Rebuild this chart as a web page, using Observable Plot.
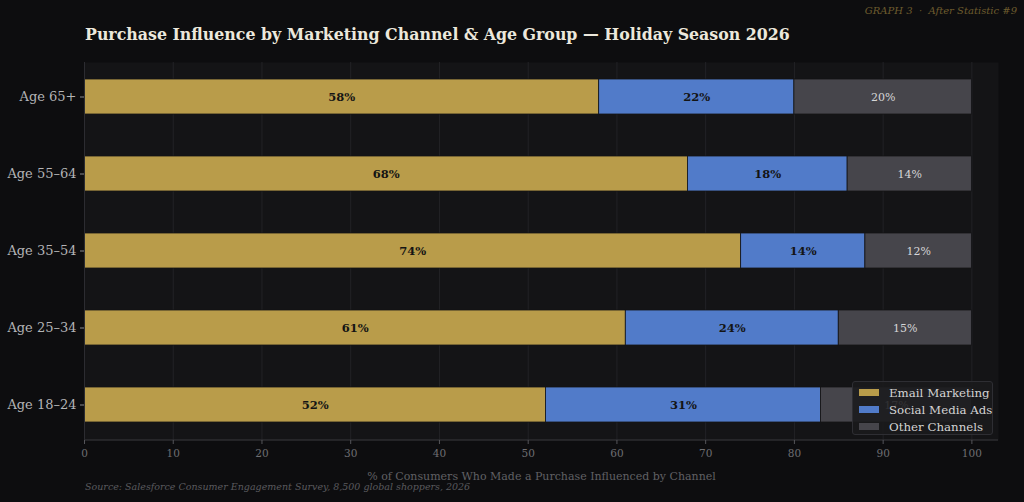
<!DOCTYPE html>
<html>
<head>
<meta charset="utf-8">
<script src="https://cdn.jsdelivr.net/npm/d3@7"></script>
<script src="https://cdn.jsdelivr.net/npm/@observablehq/plot@0.6"></script>
<style>
  html, body { margin: 0; padding: 0; background: #0d0d0f; }
  #wrap { position: relative; width: 1024px; height: 502px; background: #0d0d0f; font-family: "DejaVu Serif", serif; overflow: hidden; }
  #title { position: absolute; left: 85px; top: 25px; font-size: 15.8px; font-weight: bold; color: #ece8dc; white-space: nowrap; }
  #tag { position: absolute; right: 7px; top: 5px; font-size: 10px; font-style: italic; color: #6e5c2e; white-space: nowrap; }
  #source { position: absolute; left: 85px; top: 481px; font-size: 9.5px; font-style: italic; color: #5a5a5e; white-space: nowrap; }
  #legend { position: absolute; left: 852px; top: 381px; width: 141px; height: 54px; box-sizing: border-box; background: rgba(26, 26, 29, 0.88); border: 1px solid #2e2e33; border-radius: 3px; padding: 2px 0 0 6px; }
  .row { display: flex; align-items: center; height: 17px; font-size: 11.8px; color: #d4d4d4; white-space: nowrap; }
  .sw { flex: 0 0 20px; width: 20px; height: 7px; margin-right: 10px; }
  #chart { position: absolute; left: 0; top: 0; }
</style>
</head>
<body>
<div id="wrap">
  <div id="chart"></div>
  <div id="title">Purchase Influence by Marketing Channel &amp; Age Group — Holiday Season 2026</div>
  <div id="tag">GRAPH 3 &nbsp;·&nbsp; After Statistic #9</div>
  <div id="source">Source: Salesforce Consumer Engagement Survey, 8,500 global shoppers, 2026</div>
  <div id="legend"></div>
</div>
<script>
// Age groups, top to bottom
const ageGroups = ["Age 65+", "Age 55–64", "Age 35–54", "Age 25–34", "Age 18–24"];
const channels = ["Email Marketing", "Social Media Ads", "Other Channels"];
const channelColors = ["#b99c4a", "#517bc9", "#46454b"];

// Share of consumers (%) per channel, in ageGroups order
const emailShare  = [58, 68, 74, 61, 52];
const socialShare = [22, 18, 14, 24, 31];
const otherShare  = [20, 14, 12, 15, 17];

const xTicks = [0, 10, 20, 30, 40, 50, 60, 70, 80, 90, 100];
const xTitle = "% of Consumers Who Made a Purchase Influenced by Channel";

const series = [emailShare, socialShare, otherShare];
const rows = [];
ageGroups.forEach((age, i) => {
  channels.forEach((ch, j) => {
    rows.push({age, channel: ch, value: series[j][i]});
  });
});

const stackOpts = {x: "value", y: "age", z: "channel", order: channels};
const isOther = d => d.channel === "Other Channels";

const chart = Plot.plot({
  width: 1024,
  height: 502,
  marginLeft: 84,
  marginRight: 26,
  marginTop: 62,
  marginBottom: 62,
  style: {background: "transparent", fontFamily: "DejaVu Serif, serif"},
  x: {domain: [0, 103]},
  y: {domain: ageGroups, paddingInner: 0.54, paddingOuter: 0.2},
  color: {domain: channels, range: channelColors},
  marks: [
    Plot.frame({fill: "#141416", stroke: null}),
    Plot.ruleX(xTicks, {stroke: "#222226", strokeWidth: 1}),
    Plot.barX(rows, Plot.stackX({...stackOpts, fill: "channel", stroke: "#141416", strokeWidth: 0.8})),
    // value labels: dark bold on email/social, light regular on other
    Plot.text(rows, Plot.stackX({
      ...stackOpts,
      text: d => isOther(d) ? "" : d.value + "%",
      fill: "#141414",
      fontWeight: "bold",
      fontSize: 11.5
    })),
    Plot.text(rows, Plot.stackX({
      ...stackOpts,
      text: d => isOther(d) ? d.value + "%" : "",
      fill: "#d6d6d8",
      fontSize: 11
    })),
    Plot.ruleY([ageGroups[ageGroups.length - 1]], {x1: 0, x2: 103, stroke: "#38383d", dy: 35}),
    Plot.ruleX([0], {stroke: "#2c2c31"}),
    Plot.axisX({ticks: xTicks, tickSize: 4, stroke: "#55555a", color: "#6e6e72", fontSize: 10.5, tickPadding: 5, label: null}),
    Plot.axisY({tickSize: 4, stroke: "#8a8a8e", color: "#b4b4b6", fontSize: 13, tickPadding: 4, label: null}),
    Plot.text([xTitle], {frameAnchor: "bottom", dy: 36, text: d => d, fill: "#606064", fontSize: 11, lineAnchor: "middle"})
  ]
});
document.getElementById("chart").appendChild(chart);

// Legend
const legend = document.getElementById("legend");
channels.forEach((ch, i) => {
  const row = document.createElement("div");
  row.className = "row";
  const sw = document.createElement("span");
  sw.className = "sw";
  sw.style.background = channelColors[i];
  const lab = document.createElement("span");
  lab.textContent = ch;
  row.appendChild(sw);
  row.appendChild(lab);
  legend.appendChild(row);
});
</script>
</body>
</html>
